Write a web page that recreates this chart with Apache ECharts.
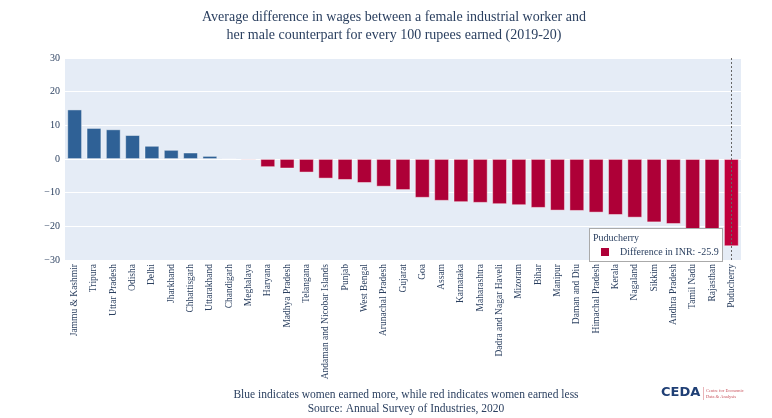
<!DOCTYPE html>
<html>
<head>
<meta charset="utf-8">
<script src="https://cdn.jsdelivr.net/npm/echarts@6/dist/echarts.min.js"></script>
<style>
html,body{margin:0;padding:0;background:#fff;}
#chart{width:772px;height:418px;}
</style>
</head>
<body>
<div id="chart"></div>
<script>
const categories = ["Jammu & Kashmir","Tripura","Uttar Pradesh","Odisha","Delhi","Jharkhand","Chhattisgarh","Uttarakhand","Chandigarh","Meghalaya","Haryana","Madhya Pradesh","Telangana","Andaman and Nicobar Islands","Punjab","West Bengal","Arunachal Pradesh","Gujarat","Goa","Assam","Karnataka","Maharashtra","Dadra and Nagar Haveli","Mizoram","Bihar","Manipur","Daman and Diu","Himachal Pradesh","Kerala","Nagaland","Sikkim","Andhra Pradesh","Tamil Nadu","Rajasthan","Puducherry"];
const values = [14.7,9.2,8.8,7.1,3.9,2.7,1.9,0.9,-0.1,-0.3,-2.4,-2.8,-4.0,-5.8,-6.2,-7.1,-8.2,-9.2,-11.5,-12.4,-12.8,-13.0,-13.4,-13.7,-14.5,-15.3,-15.4,-15.9,-16.6,-17.4,-18.8,-19.3,-21.6,-22.4,-25.9];
const yTicks = [-30,-20,-10,0,10,20,30];
const titleLines = ["Average difference in wages between a female industrial worker and","her male counterpart for every 100 rupees earned (2019-20)"];
const footerLines = ["Blue indicates women earned more, while red indicates women earned less","Source: Annual Survey of Industries, 2020"];
const seriesName = "Difference in INR";
const highlightIndex = 34;

const BLUE = "#2f6196", RED = "#ae0037", NAVY = "#2a3f5f";
const FONT = "'Liberation Serif', 'DejaVu Serif', serif";

const chart = echarts.init(document.getElementById('chart'), null, {renderer:'canvas'});
chart.setOption({
  animation:false,
  backgroundColor:'#ffffff',
  title:{
    text: titleLines.join('\n'),
    left: 389, textAlign:'center', top: 4,
    textStyle:{fontFamily:FONT,fontSize:14,fontWeight:'normal',color:NAVY,lineHeight:17.5}
  },
  grid:{left:65,right:31,top:58,bottom:158,backgroundColor:'#e5ecf6',show:true,borderWidth:0},
  tooltip:{
    trigger:'axis',
    alwaysShowContent:true,
    transitionDuration:0,
    showDelay:0,
    axisPointer:{type:'line',lineStyle:{color:'#666',type:[2,2],width:1}},
    backgroundColor:'#ffffff',
    borderColor:'#aaaaaa',
    borderWidth:1,
    padding:[2,3,2,3],
    extraCssText:'border-radius:0;box-shadow:none;',
    position:function(){return [589,228];},
    formatter:function(params){
      const p = params[0];
      return '<div style="font-family:'+FONT.replace(/'/g,'')+';font-size:10px;color:'+NAVY+';line-height:14px;">'
        + p.name + '<br/>'
        + '<span style="display:inline-block;width:8px;height:8px;background:'+RED+';margin:0 11px 0 8px;vertical-align:-1px;"></span>'
        + seriesName + ': ' + p.value + '</div>';
    }
  },
  xAxis:{
    type:'category',
    data:categories,
    axisLine:{show:false},
    axisTick:{show:false},
    axisPointer:{show:true},
    axisLabel:{interval:0,rotate:90,fontFamily:FONT,fontSize:9.5,color:NAVY,margin:4}
  },
  yAxis:{
    type:'value',
    min:-30,max:30,interval:10,
    axisLine:{show:false},
    axisTick:{show:false},
    splitLine:{lineStyle:{color:'#ffffff',width:1}},
    axisLabel:{fontFamily:FONT,fontSize:10,color:NAVY,margin:5,
      formatter:function(v){return yTicks.indexOf(v)>=0 ? (v<0?'\u2212'+Math.abs(v):String(v)) : '';}}
  },
  series:[{
    name:seriesName,
    type:'bar',
    data:values,
    barCategoryGap:'24%',
    itemStyle:{
      color:function(p){return p.value>=0?BLUE:RED;},
      borderColor:'rgba(255,255,255,0.55)',
      borderWidth:0.8
    }
  }],
  graphic:[
    {type:'text',x:406,y:389,style:{text:footerLines[0],font:'11.5px '+FONT,fill:NAVY,textAlign:'center'}},
    {type:'text',x:406,y:403,style:{text:footerLines[1],font:'11.5px '+FONT,fill:NAVY,textAlign:'center'}},
    {type:'text',x:661,y:386,style:{text:'CEDA',font:'bold 13px "DejaVu Sans", sans-serif',fill:'#1f3f75'}},
    {type:'rect',shape:{x:703,y:387,width:0.6,height:13},style:{fill:'#d9828a'}},
    {type:'text',x:706,y:388,style:{text:'Centre for Economic\nData & Analysis',font:'4.5px '+FONT,fill:'#c8505a',lineHeight:6}}
  ]
});
chart.dispatchAction({type:'showTip',seriesIndex:0,dataIndex:highlightIndex});
</script>
</body>
</html>
